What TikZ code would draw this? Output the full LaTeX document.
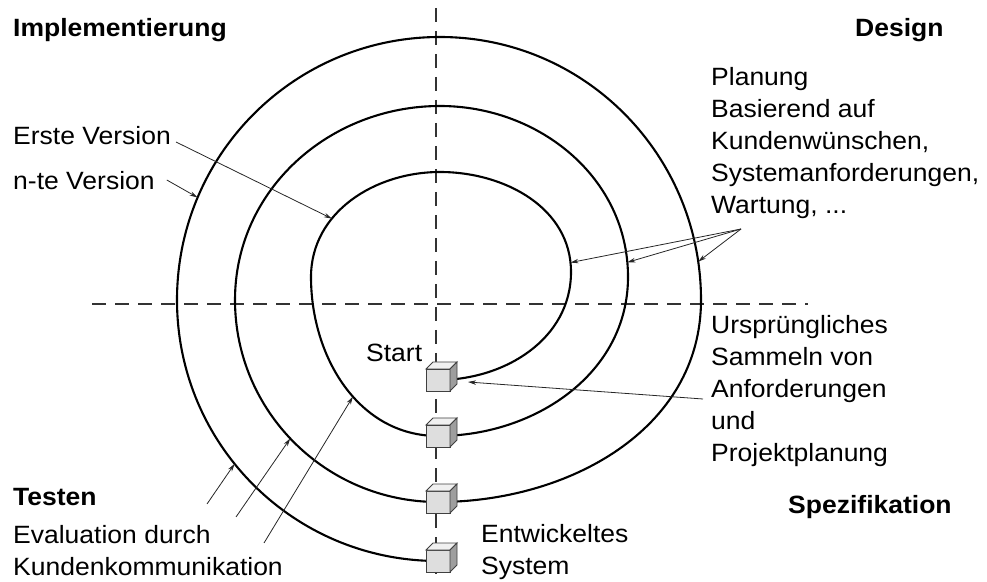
\documentclass[tikz,border=0pt]{standalone}
\usepackage{fontspec}
\setmainfont{Liberation Sans}[FakeStretch=1.06]
\usetikzlibrary{arrows.meta, backgrounds}
\tikzset{
    lbl/.style={anchor=base west, inner sep=0pt, font=\fontsize{25}{32}\selectfont},
    head/.style={lbl, font=\fontsize{25}{32}\selectfont\bfseries},
    block/.style={lbl, align=left, anchor=north west},
    spiral/.style={line width=2.1pt, black},
    axis/.style={line width=1.3pt, black!80, dash pattern=on 14pt off 9pt},
    cube/.style={draw=black!75, line width=0.9pt, fill=black!13, minimum width=24pt, minimum height=22pt, inner sep=0pt, outer sep=0pt},
    cubeedge/.style={draw=black!75, line width=0.9pt},
    arrow/.style={-{Stealth[length=8pt, width=4.5pt]}, line width=0.8pt, black!85}
}
\begin{document}
\begin{tikzpicture}[x=1pt, y=1pt]
    \useasboundingbox (0,0) rectangle (987,581);

    % Phases
    \node [head] (impl) at (13,544) {Implementierung};
    \node [head] (design) at (855,544) {Design};
    \node [head] (test) at (13,76) {Testen};
    \node [head] (spec) at (788,68) {Spezifikation};

    % Cubes on the axis
    \foreach \i/\y in {1/201, 2/145, 3/79, 4/20} {
        \node [cube] (c\i) at (438,\y) {};
        \draw [cubeedge, fill=black!6] (c\i.north west) -- ++(7,7) -- ++(24,0) -- (c\i.north east) -- cycle;
        \draw [cubeedge, fill=black!38] (c\i.north east) -- ++(7,7) -- ++(0,-22) -- (c\i.south east) -- cycle;
    }

    % Labels
    \node [lbl] (start) at (366,219) {Start};
    \node [lbl] (erste) at (13,436) {Erste Version};
    \node [lbl] (nte) at (13,391) {n-te Version};
    \node [block] (plan) at (711,514) {Planung\\Basierend auf\\Kundenwünschen,\\Systemanforderungen,\\Wartung, ...};
    \node [block] (urs) at (711,266) {Ursprüngliches\\Sammeln von\\Anforderungen\\und\\Projektplanung};
    \node [block] (eval) at (13,56) {Evaluation durch\\Kundenkommunikation};
    \node [block] (sys) at (481,57) {Entwickeltes\\System};

    % Axes and spiral behind the cubes
    \begin{scope}[on background layer]
        \draw [axis] (436,573) -- (436,0);
        \draw [axis] (92,277) -- (808,277);
        \draw [spiral] (c1.center)
            to[out=0, in=-90] (571,309)
            to[out=90, in=0] coordinate[pos=0.05] (d1) (440,409)
            to[out=180, in=90] coordinate[pos=0.65] (v1) (311,304)
            to[out=-90, in=180] coordinate[pos=0.56] (t1) (c2.center)
            to[out=0, in=-90] (628,304)
            to[out=90, in=0] coordinate[pos=0.05] (d2) (440,475)
            to[out=180, in=90] (235,281)
            to[out=-90, in=180] coordinate[pos=0.48] (t2) (c3.center)
            to[out=0, in=-90] (701,281)
            to[out=90, in=0] coordinate[pos=0.09] (d3) (440,544)
            to[out=180, in=90] coordinate[pos=0.75] (v3) (177,281)
            to[out=-90, in=180] coordinate[pos=0.43] (t3) (c4.center);
    \end{scope}

    % Arrows
    \coordinate (dsrc) at (741,352);
    \coordinate (asrc) at (703,182);
    \coordinate (e1) at (207,77);
    \coordinate (e2) at (236,64);
    \coordinate (e3) at (264,38);
    \draw [arrow] ([shift={(5,3)}]erste.base east) -- (v1);
    \draw [arrow] ([shift={(12,10)}]nte.base east) -- (v3);
    \draw [arrow] (dsrc) -- (d1);
    \draw [arrow] (dsrc) -- (d2);
    \draw [arrow] (dsrc) -- (d3);
    \draw [arrow] (asrc) -- ([shift={(18,-2)}]c1.east);
    \draw [arrow] (e1) -- (t3);
    \draw [arrow] (e2) -- (t2);
    \draw [arrow] (e3) -- (t1);
\end{tikzpicture}
\end{document}
